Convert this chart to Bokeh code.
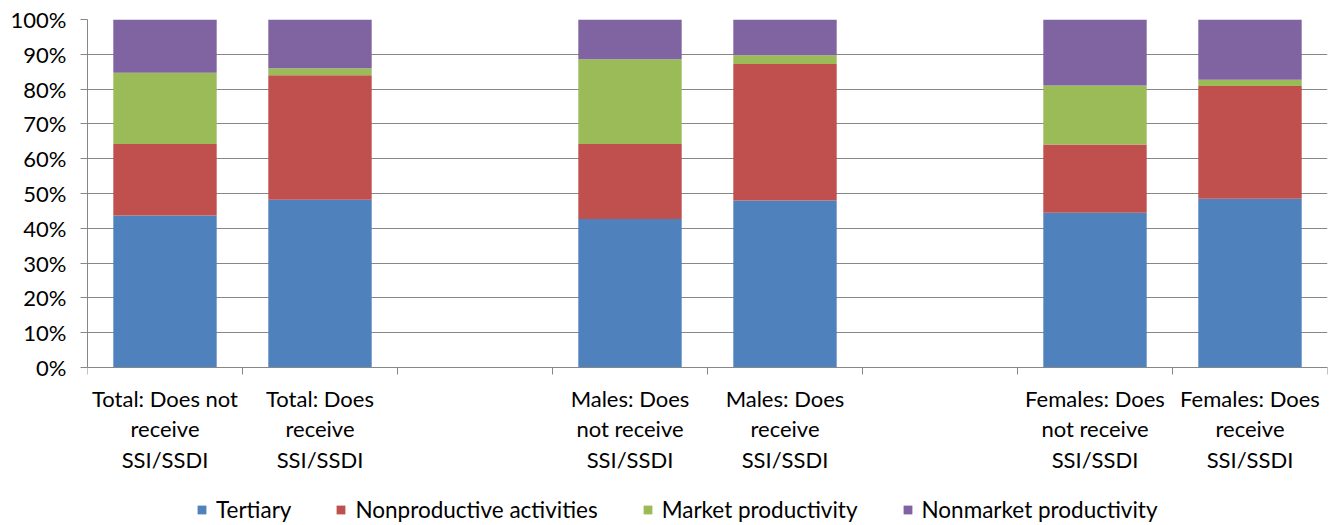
from bokeh.plotting import figure
from bokeh.models import (ColumnDataSource, FixedTicker, Legend, LegendItem,
                          NumeralTickFormatter, Range1d)
from bokeh.embed import file_html
from bokeh.resources import INLINE

# Category slots (blank slots separate the three groups)
categories = [
    "Total: Does not\nreceive\nSSI/SSDI",
    "Total: Does\nreceive\nSSI/SSDI",
    "",
    "Males: Does\nnot receive\nSSI/SSDI",
    "Males: Does\nreceive\nSSI/SSDI",
    "",
    "Females: Does\nnot receive\nSSI/SSDI",
    "Females: Does\nreceive\nSSI/SSDI",
]

# Shares of time (%), one value per non-blank category
tertiary = [43.7, 48.2, 42.7, 48.0, 44.5, 48.5]
nonproductive = [20.5, 35.8, 21.5, 39.2, 19.6, 32.4]
market = [20.5, 2.0, 24.4, 2.5, 16.9, 1.8]
nonmarket = [15.3, 14.0, 11.4, 10.3, 19.0, 17.3]

series_names = ["Tertiary", "Nonproductive activities",
                "Market productivity", "Nonmarket productivity"]
series_keys = ["tertiary", "nonproductive", "market", "nonmarket"]
colors = ["#4F81BD", "#C0504D", "#9BBB59", "#8064A2"]

# positions of bars among the slots
slot_index = [i for i, c in enumerate(categories) if c]
xs = [i + 0.5 for i in slot_index]

source = ColumnDataSource(dict(
    x=xs,
    tertiary=[v / 100 for v in tertiary],
    nonproductive=[v / 100 for v in nonproductive],
    market=[v / 100 for v in market],
    nonmarket=[v / 100 for v in nonmarket],
))

FONT = "Lato"
GRAY = "#878787"

# The frame runs to the bottom of the page; the 0..1 band occupies its top
# 348 px and the space below 0 holds the category labels and the legend.
BAR_BAND_PX = 348
FRAME_PX = 506
y_start = -(FRAME_PX - BAR_BAND_PX) / BAR_BAND_PX

p = figure(frame_width=1240, frame_height=FRAME_PX,
           output_backend="svg", toolbar_location=None,
           x_range=Range1d(0, len(categories)), y_range=Range1d(y_start, 1),
           min_border_left=87, min_border_right=8, min_border_top=19,
           min_border_bottom=0)
p.outline_line_color = None
p.background_fill_color = "white"
p.border_fill_color = "white"

renderers = p.vbar_stack(series_keys, x="x", width=0.667, source=source,
                         fill_color=colors, line_color=None)

# y axis: percentages
p.yaxis.bounds = (0, 1)
p.yaxis.ticker = FixedTicker(ticks=[i / 10 for i in range(11)])
p.yaxis.formatter = NumeralTickFormatter(format="0%")
p.yaxis.axis_line_color = GRAY
p.yaxis.major_tick_line_color = GRAY
p.yaxis.major_tick_in = 0
p.yaxis.major_tick_out = 7
p.yaxis.minor_tick_line_color = None
p.yaxis.major_label_text_font = FONT
p.yaxis.major_label_text_font_size = "22px"
p.yaxis.major_label_text_color = "black"
p.yaxis.major_label_standoff = 14

# x axis at 0%: labels at slot centres, ticks at slot boundaries
centers = [i + 0.5 for i in range(len(categories))]
p.xaxis.fixed_location = 0
p.xaxis.ticker = FixedTicker(ticks=centers,
                             minor_ticks=list(range(len(categories) + 1)))
p.xaxis.major_label_overrides = {c: lab for c, lab in zip(centers, categories)}
p.xaxis.axis_line_color = GRAY
p.xaxis.major_tick_line_color = None
p.xaxis.minor_tick_line_color = GRAY
p.xaxis.minor_tick_in = 0
p.xaxis.minor_tick_out = 7
p.xaxis.major_label_text_font = FONT
p.xaxis.major_label_text_font_size = "22px"
p.xaxis.major_label_text_color = "black"
p.xaxis.major_label_text_line_height = 1.13
p.xaxis.major_label_standoff = 10

p.xgrid.grid_line_color = None
p.ygrid.grid_line_color = GRAY
p.ygrid.grid_line_width = 1

legend = Legend(
    items=[LegendItem(label=n, renderers=[r]) for n, r in zip(series_names, renderers)],
    orientation="horizontal", location=(109, 2),
    label_text_font=FONT, label_text_font_size="22.5px", label_text_color="black",
    glyph_width=11, glyph_height=11, label_standoff=9, spacing=44,
    border_line_color=None, background_fill_alpha=0, padding=0, margin=0,
)
p.add_layout(legend, "center")

open("out.html", "w").write(file_html(p, INLINE))
